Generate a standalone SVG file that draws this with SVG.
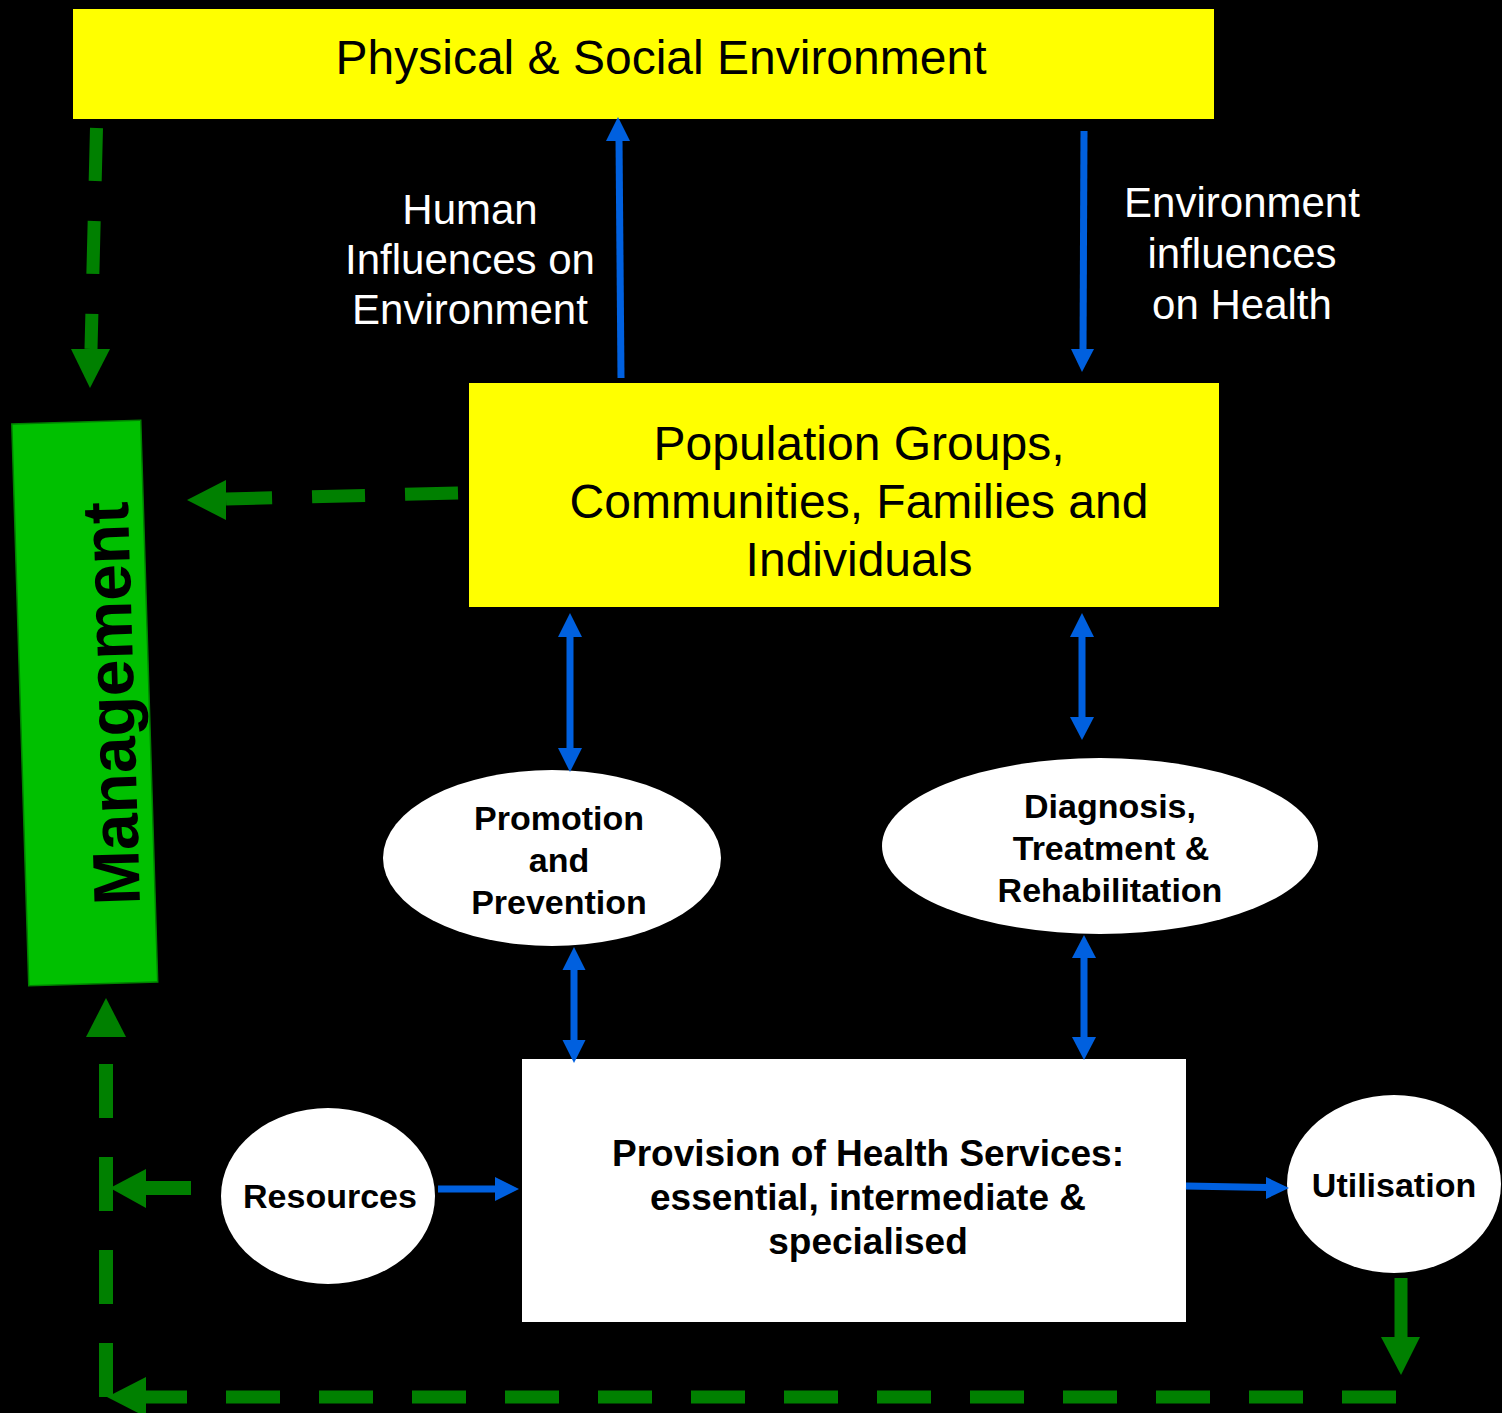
<svg xmlns="http://www.w3.org/2000/svg" width="1502" height="1413" viewBox="0 0 1502 1413">
<style>
.bg{fill:#000}
.yel{fill:#ffff00}
.wht{fill:#ffffff}
.mgmt{fill:#00c000;stroke:#008000;stroke-width:1.5}
.t{font-family:"Liberation Sans",Arial,sans-serif;text-anchor:middle}
.reg{font-size:48px;fill:#000}
.lbl{font-size:42px;fill:#fff}
.b34{font-size:34px;font-weight:bold;fill:#000}
.b37{font-size:37px;font-weight:bold;fill:#000}
.mg{font-size:66px;font-weight:bold;fill:#000}
.bl{stroke:#0060df;stroke-width:7;fill:none}
.blh{fill:#0060df}
.gd{stroke:#008000;stroke-width:13;fill:none;stroke-dasharray:53 40}
.gs{stroke:#008000;stroke-width:14;fill:none}
.gh{fill:#008000}
</style>
<rect class="bg" x="0" y="0" width="1502" height="1413"/>

<g id="physical-social-environment">
<rect class="yel" x="73" y="9" width="1141" height="110"/>
<text class="t reg" x="661" y="74">Physical &amp; Social Environment</text>
</g>

<g id="population-groups">
<rect class="yel" x="469" y="383" width="750" height="224"/>
<text class="t reg" x="859" y="460">Population Groups,</text>
<text class="t reg" x="859" y="518">Communities, Families and</text>
<text class="t reg" x="859" y="576">Individuals</text>
</g>

<g id="management">
<rect class="mgmt" x="20.25" y="422" width="129" height="562" transform="rotate(-1.73 84.75 703)"/>
<text class="t mg" transform="translate(134 703) rotate(-91.73)" x="0" y="0">Management</text>
</g>

<g id="promotion-prevention">
<ellipse class="wht" cx="552" cy="858" rx="169" ry="88"/>
<text class="t b34" x="559" y="830">Promotion</text>
<text class="t b34" x="559" y="872">and</text>
<text class="t b34" x="559" y="914">Prevention</text>
</g>

<g id="diagnosis-treatment">
<ellipse class="wht" cx="1100" cy="846" rx="218" ry="88"/>
<text class="t b34" x="1110" y="818">Diagnosis,</text>
<text class="t b34" x="1111" y="860">Treatment &amp;</text>
<text class="t b34" x="1110" y="902">Rehabilitation</text>
</g>

<g id="provision-health-services">
<rect class="wht" x="522" y="1059" width="664" height="263"/>
<text class="t b37" x="868" y="1166">Provision of Health Services:</text>
<text class="t b37" x="868" y="1210">essential, intermediate &amp;</text>
<text class="t b37" x="868" y="1254">specialised</text>
</g>

<g id="resources">
<ellipse class="wht" cx="328" cy="1196" rx="107" ry="88"/>
<text class="t b34" x="330" y="1208">Resources</text>
</g>

<g id="utilisation">
<ellipse class="wht" cx="1394" cy="1184" rx="107" ry="89"/>
<text class="t b34" x="1394" y="1197">Utilisation</text>
</g>

<g id="labels">
<text class="t lbl" x="470" y="224">Human</text>
<text class="t lbl" x="470" y="274">Influences on</text>
<text class="t lbl" x="470" y="324">Environment</text>
<text class="t lbl" x="1242" y="217">Environment</text>
<text class="t lbl" x="1242" y="268">influences</text>
<text class="t lbl" x="1242" y="319">on Health</text>
</g>

<g id="connectors">
<!-- blue: population -> environment -->
<path class="bl" d="M621 378 L619 139"/>
<polygon class="blh" points="618,117 606,141 630,141"/>
<!-- blue: environment -> population -->
<path class="bl" d="M1084 131 L1083 351"/>
<polygon class="blh" points="1082,372 1071,349 1094,349"/>
<!-- population <-> promotion -->
<path class="bl" d="M570 635 L570 750"/>
<polygon class="blh" points="570,613 558,637 582,637"/>
<polygon class="blh" points="570,772 558,748 582,748"/>
<!-- population <-> diagnosis -->
<path class="bl" d="M1082 635 L1082 719"/>
<polygon class="blh" points="1082,613 1070,637 1094,637"/>
<polygon class="blh" points="1082,740 1070,717 1094,717"/>
<!-- promotion <-> provision -->
<path class="bl" d="M574 968 L574 1042"/>
<polygon class="blh" points="574,947 562.5,970 585.5,970"/>
<polygon class="blh" points="574,1063 562.5,1040 585.5,1040"/>
<!-- diagnosis <-> provision -->
<path class="bl" d="M1084 956 L1084 1039"/>
<polygon class="blh" points="1084,935 1072,958 1096,958"/>
<polygon class="blh" points="1084,1060 1072,1037 1096,1037"/>
<!-- resources -> provision -->
<path class="bl" d="M438 1189 L497 1189"/>
<polygon class="blh" points="519,1189 495,1177 495,1201"/>
<!-- provision -> utilisation -->
<path class="bl" d="M1186 1186 L1268 1187.5"/>
<polygon class="blh" points="1289,1188 1266,1177 1266,1199"/>

<!-- green: environment -> management -->
<path class="gd" d="M96.5 128 L91 349"/>
<polygon class="gh" points="90,388 71,349 110,349"/>
<!-- green: population -> management -->
<path class="gd" d="M458 493 L226 499"/>
<polygon class="gh" points="187,500 226,480 226,520"/>
<!-- green: loop up to management -->
<path class="gd" style="stroke-dasharray:54 39;stroke-width:14" d="M106 1397 L106 1037"/>
<polygon class="gh" points="106,998 86,1037 126,1037"/>
<!-- green: resources -> loop -->
<path class="gs" d="M191 1188 L144 1188"/>
<polygon class="gh" points="110,1188 146,1169 146,1208"/>
<!-- green: utilisation down -->
<path class="gs" style="stroke-width:13" d="M1401 1278 L1401 1339"/>
<polygon class="gh" points="1401,1375 1381,1337 1420,1337"/>
<!-- green: bottom return -->
<path class="gd" style="stroke-dasharray:54 39" d="M1396 1397 L146 1397"/>
<polygon class="gh" points="107,1397 146,1377 146,1417"/>
</g>
</svg>
